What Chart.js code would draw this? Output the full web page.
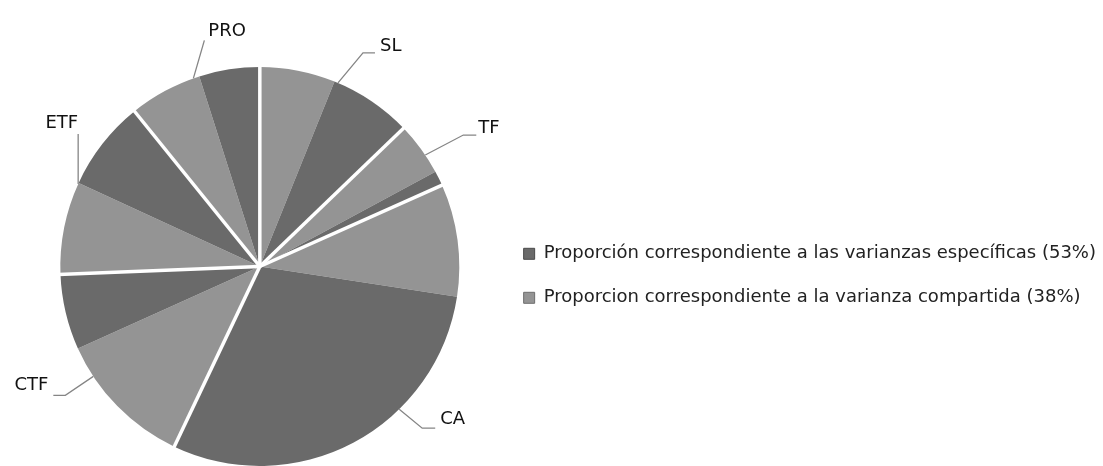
<!DOCTYPE html>
<html>
<head>
<meta charset="utf-8">
<script src="https://cdn.jsdelivr.net/npm/chart.js@4.4.1/dist/chart.umd.min.js"></script>
<style>
    html, body { margin: 0; padding: 0; background: #fff; }
    #wrap { width: 1103px; height: 466px; position: relative; }
</style>
</head>
<body>
<div id="wrap"><canvas id="variancePie"></canvas></div>
<script>
// one pair of slices per variable: shared part first, then specific part (% of the pie)
const variables = ['SL', 'TF', 'CA', 'CTF', 'ETF', 'PRO'];
const sharedPart = [6.1, 4.3, 9.1, 11.2, 7.5, 5.9];
const specificPart = [6.7, 1.2, 29.6, 6.1, 7.3, 4.9];
const legendTexts = [
    'Proporción correspondiente a las varianzas específicas (53%)',
    'Proporcion correspondiente a la varianza compartida (38%)'
];

const darkGray = '#6a6a6a';
const lightGray = '#949494';
const textColor = '#222222';

// where each variable name sits relative to its leader line
const labelLayout = {
    SL:  { elbow: [25, -30], tail: 12,  text: [5, -7],  align: 'left' },
    TF:  { elbow: [38, -20], tail: 13,  text: [2, -7],  align: 'left' },
    CA:  { elbow: [23, 19],  tail: 13,  text: [5, -9],  align: 'left' },
    CTF: { elbow: [-28, 19], tail: -12, text: [-5, -10], align: 'right' },
    ETF: { elbow: [0, -50],  tail: 0,   text: [0, -11], align: 'right' },
    PRO: { elbow: [11, -38], tail: 0,   text: [4, -9],  align: 'left' }
};

const sliceValues = [];
const sliceColors = [];
const sliceLabels = [];
variables.forEach(function(name, i) {
    sliceValues.push(sharedPart[i], specificPart[i]);
    sliceColors.push(lightGray, darkGray);
    sliceLabels.push(name + ' compartida', name + ' específica');
});

// white cuts between variables + leader lines and names
const pieDecor = {
    id: 'pieDecor',
    afterDatasetsDraw(chart) {
        const arcs = chart.getDatasetMeta(0).data;
        const ctx = chart.ctx;
        ctx.save();
        variables.forEach(function(name, i) {
            const first = arcs[i * 2];
            const last = arcs[i * 2 + 1];
            const cx = first.x, cy = first.y, r = first.outerRadius;

            const a0 = first.startAngle;
            ctx.strokeStyle = '#ffffff';
            ctx.lineWidth = 3.5;
            ctx.beginPath();
            ctx.moveTo(cx, cy);
            ctx.lineTo(cx + (r + 2) * Math.cos(a0), cy + (r + 2) * Math.sin(a0));
            ctx.stroke();

            const mid = (first.startAngle + last.endAngle) / 2;
            const lay = labelLayout[name];
            const px = cx + r * Math.cos(mid);
            const py = cy + r * Math.sin(mid);
            const ex = px + lay.elbow[0];
            const ey = py + lay.elbow[1];
            const tx = ex + lay.tail;
            ctx.strokeStyle = '#858585';
            ctx.lineWidth = 1.3;
            ctx.beginPath();
            ctx.moveTo(px, py);
            ctx.lineTo(ex, ey);
            if (lay.tail !== 0) ctx.lineTo(tx, ey);
            ctx.stroke();

            ctx.fillStyle = '#111111';
            ctx.font = '18px "DejaVu Sans"';
            ctx.textAlign = lay.align;
            ctx.textBaseline = 'middle';
            ctx.fillText(name, tx + lay.text[0], ey + lay.text[1]);
        });
        ctx.restore();
    }
};

const ctx = document.getElementById('variancePie').getContext('2d');
new Chart(ctx, {
    type: 'pie',
    data: {
        labels: sliceLabels,
        datasets: [{
            data: sliceValues,
            backgroundColor: sliceColors,
            borderWidth: 0
        }]
    },
    options: {
        responsive: true,
        maintainAspectRatio: false,
        animation: false,
        layout: {
            padding: { top: 67, bottom: -3, left: 22, right: -3 }
        },
        plugins: {
            tooltip: { enabled: false },
            legend: {
                position: 'right',
                maxWidth: 620,
                onClick: null,
                // empty title only nudges the two items down a bit
                title: { display: true, text: ' ', padding: 0, color: '#ffffff', font: { size: 13 } },
                labels: {
                    color: textColor,
                    font: { family: 'DejaVu Sans', size: 18 },
                    boxWidth: 11,
                    boxHeight: 11,
                    padding: 26,
                    generateLabels: function() {
                        return [
                            { text: legendTexts[0], fillStyle: darkGray, strokeStyle: '#4a4a4a', lineWidth: 1, fontColor: textColor },
                            { text: legendTexts[1], fillStyle: lightGray, strokeStyle: '#6e6e6e', lineWidth: 1, fontColor: textColor }
                        ];
                    }
                }
            }
        }
    },
    plugins: [pieDecor]
});
</script>
</body>
</html>
